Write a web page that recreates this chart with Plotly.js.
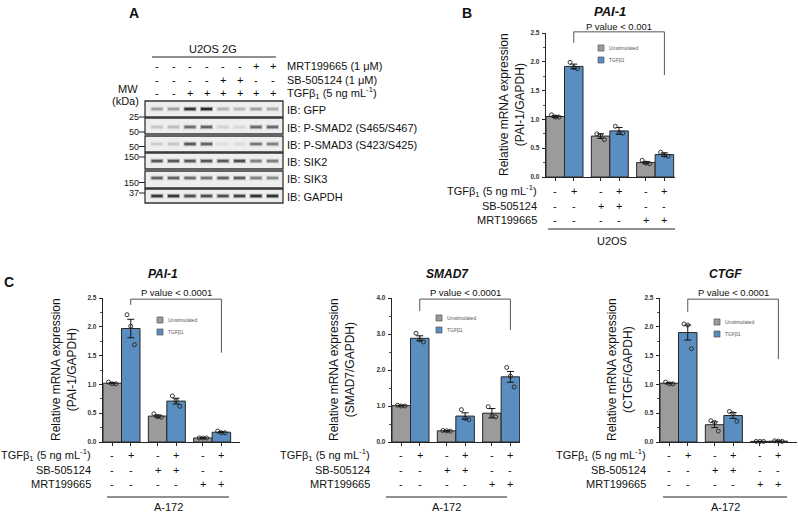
<!DOCTYPE html>
<html><head><meta charset="utf-8">
<script src="https://cdn.plot.ly/plotly-3.0.1.min.js"></script>
<style>body{margin:0;background:#fff}#plot{width:798px;height:513px}</style>
</head><body><div id="plot"></div>
<script>
// ---------------- DATA ----------------
// Panel B: U2OS, PAI-1
const b_pai1_unstim_mean = [1.05, 0.71, 0.25];
const b_pai1_unstim_sem  = [0.02, 0.04, 0.02];
const b_pai1_unstim_pts  = [[1.08,1.04,1.04],[0.75,0.72,0.65],[0.29,0.24,0.23]];
const b_pai1_tgf_mean    = [1.92, 0.80, 0.39];
const b_pai1_tgf_sem     = [0.04, 0.06, 0.03];
const b_pai1_tgf_pts     = [[1.99,1.90,1.88],[0.88,0.77,0.76],[0.43,0.38,0.36]];
// Panel C: A-172, PAI-1
const c_pai1_unstim_mean = [1.02, 0.45, 0.07];
const c_pai1_unstim_sem  = [0.01, 0.02, 0.005];
const c_pai1_unstim_pts  = [[1.04,1.01,1.01],[0.49,0.44,0.43],[0.07,0.07,0.07]];
const c_pai1_tgf_mean    = [1.97, 0.71, 0.17];
const c_pai1_tgf_sem     = [0.16, 0.05, 0.01];
const c_pai1_tgf_pts     = [[2.21,2.01,1.69],[0.80,0.72,0.62],[0.19,0.16,0.16]];
// Panel C: A-172, SMAD7
const c_smad7_unstim_mean = [1.01, 0.31, 0.80];
const c_smad7_unstim_sem  = [0.01, 0.01, 0.13];
const c_smad7_unstim_pts  = [[1.02,1.00,1.00],[0.32,0.31,0.30],[0.98,0.73,0.70]];
const c_smad7_tgf_mean    = [2.88, 0.72, 1.81];
const c_smad7_tgf_sem     = [0.07, 0.09, 0.15];
const c_smad7_tgf_pts     = [[3.02,2.84,2.78],[0.90,0.66,0.62],[2.07,1.83,1.53]];
// Panel C: A-172, CTGF
const c_ctgf_unstim_mean = [1.02, 0.30, 0.01];
const c_ctgf_unstim_sem  = [0.01, 0.05, 0.002];
const c_ctgf_unstim_pts  = [[1.04,1.01,1.01],[0.37,0.34,0.19],[0.01,0.01,0.01]];
const c_ctgf_tgf_mean    = [1.90, 0.46, 0.015];
const c_ctgf_tgf_sem     = [0.13, 0.05, 0.003];
const c_ctgf_tgf_pts     = [[2.05,2.03,1.62],[0.53,0.49,0.36],[0.02,0.015,0.01]];

// treatment rows for bar charts (order: grp1 unstim, grp1 tgf, grp2 ...)
const row_tgf = ['-','+','-','+','-','+'];
const row_sb  = ['-','-','+','+','-','-'];
const row_mrt = ['-','-','-','-','+','+'];
const row_labels = ['TGFβ<sub>1</sub> (5 ng mL<sup>-1</sup>)','SB-505124','MRT199665'];
const legend_labels = ['Unstimulated','TGFβ1'];

// Panel A (western blot)
const a_mrt = ['-','-','-','-','-','-','+','+'];
const a_sb  = ['-','-','-','-','+','+','-','-'];
const a_tgf = ['-','-','+','+','+','+','+','+'];
const a_row_labels = ['MRT199665 (1 μM)','SB-505124 (1 μM)','TGFβ<sub>1</sub> (5 ng mL<sup>-1</sup>)'];
const blot_labels = ['IB: GFP','IB: P-SMAD2 (S465/S467)','IB: P-SMAD3 (S423/S425)','IB: SIK2','IB: SIK3','IB: GAPDH'];
const blot_intensity = [
  [0.35,0.35,0.90,0.95,0.25,0.22,0.35,0.30],
  [0.15,0.20,0.60,0.65,0.08,0.06,0.62,0.62],
  [0.12,0.15,0.72,0.66,0.03,0.03,0.55,0.50],
  [0.72,0.72,0.72,0.72,0.72,0.78,0.50,0.52],
  [0.66,0.66,0.60,0.56,0.66,0.68,0.50,0.45],
  [0.88,0.88,0.76,0.76,0.76,0.82,0.92,0.92]
];
const mw_labels = ['25','50','50','150','150','37'];

// ---------------- STYLE / LAYOUT ----------------
const FONT = 'Liberation Sans, Arial, sans-serif';
const GRAY = '#9b9b9b', BLUE = '#5b8ec0', EDGE = '#262626';
const W = 798, H = 513, UNIT = 18.5;
const traces = [], shapes = [], annotations = [];

function txt(x, y, text, size, opts) {
  annotations.push(Object.assign({xref:'x5', yref:'y5', x:x, y:y, text:text, showarrow:false,
    font:{family:FONT, size:size, color:'#111'}, xanchor:'center', yanchor:'middle'}, opts||{}));
}
function line(x0,y0,x1,y1,color,width){
  shapes.push({type:'line', xref:'x5', yref:'y5', x0:x0,y0:y0,x1:x1,y1:y1, line:{color:color,width:width}});
}

// pixel overlay axis
traces.push({type:'scatter', x:[0], y:[0], xaxis:'x5', yaxis:'y5', mode:'markers', marker:{opacity:0}, hoverinfo:'skip', showlegend:false});

const panels = [
  {x0:546,x1:675,yT:33,yB:177,ymax:2.5,dtick:0.5,title:'PAI-1',titleX:610,titleY:11,titleSize:13,
   ytitle:'(PAI-1/GAPDH)',ytX:512,
   u:[b_pai1_unstim_mean,b_pai1_unstim_sem,b_pai1_unstim_pts], t:[b_pai1_tgf_mean,b_pai1_tgf_sem,b_pai1_tgf_pts],
   brk:[2.33,2.52,1.77], ptext:'P value < 0.001', ptY:26, leg:[598,45],
   rowY:[191,206,220], labelX:539, lineY:229, lineX:[548,675], cell:'U2OS', cellY:241},
  {x0:103,x1:240,yT:298,yB:442,ymax:2.5,dtick:0.5,title:'PAI-1',titleX:163,titleY:274,titleSize:12,
   ytitle:'(PAI-1/GAPDH)',ytX:64,
   u:[c_pai1_unstim_mean,c_pai1_unstim_sem,c_pai1_unstim_pts], t:[c_pai1_tgf_mean,c_pai1_tgf_sem,c_pai1_tgf_pts],
   brk:[2.38,2.48,1.55], ptext:'P value < 0.0001', ptY:292, leg:[157,317],
   rowY:[455,470,484], labelX:93, lineY:497, lineX:[107,229], cell:'A-172', cellY:507},
  {x0:392,x1:520,yT:298,yB:442,ymax:4.0,dtick:1.0,title:'SMAD7',titleX:447,titleY:274,titleSize:12,
   ytitle:'(SMAD7/GAPDH)',ytX:342,
   u:[c_smad7_unstim_mean,c_smad7_unstim_sem,c_smad7_unstim_pts], t:[c_smad7_tgf_mean,c_smad7_tgf_sem,c_smad7_tgf_pts],
   brk:[3.64,3.97,3.11], ptext:'P value < 0.0001', ptY:292, leg:[436,315],
   rowY:[455,470,484], labelX:372, lineY:497, lineX:[386,507], cell:'A-172', cellY:507},
  {x0:660,x1:797,yT:298,yB:442,ymax:2.5,dtick:0.5,title:'CTGF',titleX:725,titleY:274,titleSize:12,
   ytitle:'(CTGF/GAPDH)',ytX:620,
   u:[c_ctgf_unstim_mean,c_ctgf_unstim_sem,c_ctgf_unstim_pts], t:[c_ctgf_tgf_mean,c_ctgf_tgf_sem,c_ctgf_tgf_pts],
   brk:[2.26,2.48,1.44], ptext:'P value < 0.0001', ptY:292, leg:[714,319],
   rowY:[455,470,484], labelX:648, lineY:497, lineX:[663,787], cell:'A-172', cellY:507}
];

const layout = {width:W, height:H, margin:{l:0,r:0,t:0,b:0}, paper_bgcolor:'#fff', plot_bgcolor:'rgba(0,0,0,0)',
  showlegend:false, barmode:'overlay', shapes:shapes, annotations:annotations,
  xaxis5:{domain:[0,1], range:[0,W], visible:false, fixedrange:true, anchor:'y5'},
  yaxis5:{domain:[0,1], range:[H,0], visible:false, fixedrange:true, anchor:'x5'}};

const jit = [-0.2, 0, 0.2];
panels.forEach((p, k) => {
  const s = k === 0 ? '' : String(k+1);
  const xa = 'x'+s, ya = 'y'+s;
  const r1 = -0.5 + (p.x1 - p.x0)/UNIT;
  const gx = [0, 2.45, 4.9];
  const ux = gx.slice(), tx = gx.map(v => v+1);
  const allX = [];
  gx.forEach(v => { allX.push(v); allX.push(v+1); });
  const xpx = v => p.x0 + (v + 0.5)*UNIT;
  const ypx = v => p.yB - v/p.ymax*(p.yB - p.yT);

  layout['xaxis'+s] = {domain:[p.x0/W, p.x1/W], range:[-0.5, r1], anchor:ya, showgrid:false, zeroline:false,
    showline:true, linecolor:EDGE, linewidth:1.2, ticks:'outside', ticklen:3, tickwidth:1, tickcolor:EDGE,
    tickvals:allX, showticklabels:false, fixedrange:true};
  layout['yaxis'+s] = {domain:[1-p.yB/H, 1-p.yT/H], range:[0, p.ymax], anchor:xa, showgrid:false, zeroline:false,
    showline:true, linecolor:EDGE, linewidth:1.2, ticks:'outside', ticklen:3, tickwidth:1, tickcolor:EDGE,
    tick0:0, dtick:p.dtick, tickformat:'.1f', ticklabelstandoff:1,
    tickfont:{family:FONT, size:6.5, color:'#333', weight:700},
    minor:{ticks:'outside', ticklen:1.5, dtick:p.dtick/2, tickcolor:EDGE, tickwidth:0.8}, fixedrange:true};

  [[ux, p.u, GRAY],[tx, p.t, BLUE]].forEach(([xs, d, col]) => {
    traces.push({type:'bar', x:xs, y:d[0], xaxis:xa, yaxis:ya, width:1,
      marker:{color:col, line:{color:EDGE, width:1}}, hoverinfo:'skip',
      error_y:{type:'data', array:d[1], visible:true, color:'#111', thickness:1, width:3.5}});
    const px = [], py = [];
    d[2].forEach((grp, g) => grp.forEach((v, j) => { px.push(xs[g] + jit[j]); py.push(v); }));
    traces.push({type:'scatter', mode:'markers', x:px, y:py, xaxis:xa, yaxis:ya, hoverinfo:'skip',
      marker:{symbol:'circle-open', size:4, color:'#222', line:{width:0.9, color:'#222'}}, cliponaxis:false});
  });

  // title
  txt(p.titleX, p.titleY, '<b><i>'+p.title+'</i></b>', p.titleSize);
  // y title
  txt(p.ytX, (p.yT+p.yB)/2, 'Relative mRNA expression<br>'+p.ytitle, 12, {textangle:-90});
  // bracket
  const xl = xpx(1), xr = xpx(5.9);
  shapes.push({type:'path', xref:'x5', yref:'y5',
    path:`M${xl},${ypx(p.brk[0])} L${xl},${ypx(p.brk[1])} L${xr},${ypx(p.brk[1])} L${xr},${ypx(p.brk[2])}`,
    line:{color:'#555', width:1}});
  txt((xl+xr)/2, p.ptY, p.ptext, 9.5);
  // legend
  [GRAY, BLUE].forEach((c, i) => {
    const lx = p.leg[0], ly = p.leg[1] + i*12;
    shapes.push({type:'rect', xref:'x5', yref:'y5', x0:lx, x1:lx+6, y0:ly, y1:ly+6, fillcolor:c, line:{color:'#555', width:0.7}});
    txt(lx+9, ly+3, legend_labels[i], 5, {xanchor:'left', font:{family:FONT, size:5, color:'#555'}});
  });
  // treatment rows
  [row_tgf, row_sb, row_mrt].forEach((row, r) => {
    txt(p.labelX, p.rowY[r], row_labels[r], 11, {xanchor:'right'});
    row.forEach((sg, i) => {
      annotations.push({xref:xa, yref:'y5', x:allX[i], y:p.rowY[r], text:sg, showarrow:false,
        font:{family:FONT, size:11, color:'#111'}, xanchor:'center', yanchor:'middle'});
    });
  });
  line(p.lineX[0], p.lineY, p.lineX[1], p.lineY, '#222', 1);
  txt((p.lineX[0]+p.lineX[1])/2, p.cellY, p.cell, 11);
});

// ---------------- PANEL A ----------------
txt(134, 13, '<b>A</b>', 14);
txt(467, 13, '<b>B</b>', 14);
txt(9, 282, '<b>C</b>', 14);

const laneX = i => 157 + i*16.5;
txt(213, 49, 'U2OS 2G', 11);
line(152, 57, 276, 57, '#222', 1);
[a_mrt, a_sb, a_tgf].forEach((row, r) => {
  const y = 66 + r*13.5;
  row.forEach((sg, i) => txt(laneX(i), y, sg, 11, {font:{family:FONT, size:11, color:'#000'}}));
  txt(285, y, a_row_labels[r], 11, {xanchor:'left'});
});
txt(128, 89, 'MW', 11);
txt(125, 101, '(kDa)', 11);

const boxY = [[101,117],[118,134],[136,152],[153,169],[171,188],[189,203]];
const bandY = [109,127,144,161,178,196];
const mwY = [117,132,146.5,157,182.5,193];
blot_labels.forEach((lab, r) => {
  shapes.push({type:'rect', xref:'x5', yref:'y5', x0:145, x1:283, y0:boxY[r][0], y1:boxY[r][1],
    fillcolor:'#eeeeee', line:{color:'#333', width:1.3}});
  blot_intensity[r].forEach((d, i) => {
    const g = Math.round(228 - d*195);
    const col = `rgb(${g},${g},${g})`;
    const x = laneX(i);
    shapes.push({type:'line', xref:'x5', yref:'y5', x0:x-6.5, x1:x+6.5, y0:bandY[r], y1:bandY[r],
      line:{color:col, width:4.5}, opacity:0.35});
    shapes.push({type:'line', xref:'x5', yref:'y5', x0:x-5.5, x1:x+5.5, y0:bandY[r], y1:bandY[r],
      line:{color:col, width:2.5}});
  });
  txt(285, bandY[r]+1, lab, 11, {xanchor:'left'});
  txt(140, mwY[r], mw_labels[r], 9, {xanchor:'right', yanchor:'middle', borderpad:0});
  line(139, mwY[r], 145, mwY[r], '#222', 1);
});

Plotly.newPlot('plot', traces, layout, {staticPlot:true, displayModeBar:false});
</script></body></html>
